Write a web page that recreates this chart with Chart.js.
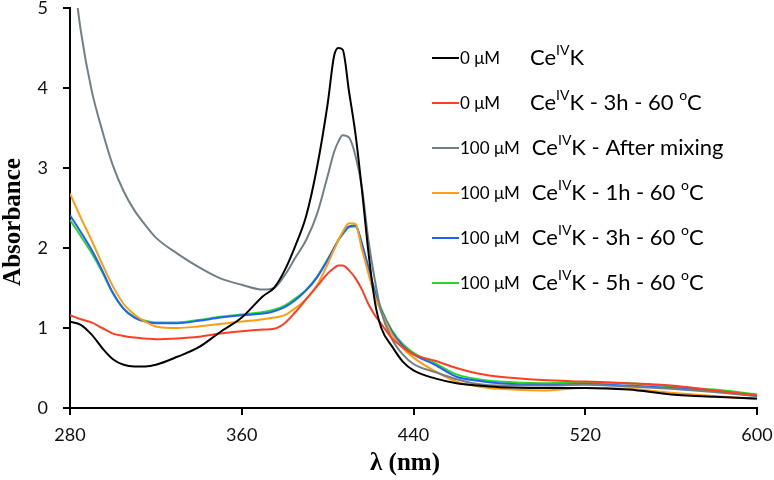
<!DOCTYPE html>
<html>
<head>
<meta charset="utf-8">
<script src="https://cdn.jsdelivr.net/npm/chart.js@4.4.0/dist/chart.umd.min.js"></script>
<style>
  html, body { margin: 0; padding: 0; background: #fff; }
  #wrap { width: 774px; height: 480px; }
</style>
</head>
<body>
<div id="wrap"><canvas id="mychart" width="774" height="480"></canvas></div>
<script>
// wavelength grid (nm)
const wavelengths = [280, 285, 290, 295, 300, 305, 310, 315, 320, 330, 340, 350, 360, 370, 375, 380, 385, 390, 395, 400, 403, 405, 407, 410, 413, 416, 419, 422, 425, 430, 435, 440, 450, 460, 470, 480, 500, 520, 540, 560, 580, 600];

// absorbance values
const ceK0 = [1.08, 1.04, 0.92, 0.75, 0.61, 0.54, 0.52, 0.52, 0.54, 0.64, 0.76, 0.95, 1.13, 1.4, 1.5, 1.72, 2.03, 2.4, 3.0, 3.8, 4.4, 4.5, 4.48, 3.95, 3.42, 2.72, 1.95, 1.33, 1.0, 0.77, 0.58, 0.47, 0.37, 0.31, 0.28, 0.26, 0.25, 0.25, 0.23, 0.17, 0.14, 0.12];
const ceK0_3h = [1.16, 1.11, 1.07, 1.0, 0.93, 0.9, 0.88, 0.87, 0.86, 0.87, 0.89, 0.93, 0.96, 0.98, 0.99, 1.06, 1.2, 1.36, 1.52, 1.68, 1.75, 1.78, 1.78, 1.72, 1.62, 1.48, 1.3, 1.16, 1.05, 0.87, 0.76, 0.67, 0.59, 0.5, 0.43, 0.39, 0.35, 0.33, 0.31, 0.28, 0.22, 0.16];
const ceK100_mix = [5.8, 4.72, 3.98, 3.47, 3.03, 2.71, 2.47, 2.29, 2.13, 1.93, 1.76, 1.62, 1.54, 1.48, 1.5, 1.66, 1.88, 2.1, 2.42, 2.9, 3.2, 3.33, 3.41, 3.38, 3.15, 2.75, 2.1, 1.6, 1.2, 0.86, 0.67, 0.55, 0.45, 0.36, 0.3, 0.28, 0.28, 0.29, 0.27, 0.24, 0.2, 0.15];
const ceK100_1h = [2.68, 2.38, 2.1, 1.8, 1.52, 1.3, 1.17, 1.08, 1.02, 1.0, 1.02, 1.05, 1.08, 1.11, 1.13, 1.16, 1.25, 1.36, 1.53, 1.8, 1.98, 2.1, 2.2, 2.31, 2.3, 1.98, 1.68, 1.4, 1.2, 0.92, 0.75, 0.63, 0.46, 0.33, 0.27, 0.24, 0.22, 0.25, 0.24, 0.19, 0.15, 0.11];
const ceK100_3h = [2.41, 2.2, 1.98, 1.72, 1.44, 1.24, 1.13, 1.08, 1.06, 1.06, 1.09, 1.13, 1.16, 1.18, 1.21, 1.26, 1.35, 1.47, 1.63, 1.85, 2.0, 2.1, 2.18, 2.27, 2.28, 2.05, 1.75, 1.45, 1.22, 0.95, 0.78, 0.67, 0.54, 0.39, 0.34, 0.31, 0.29, 0.3, 0.28, 0.25, 0.21, 0.15];
const ceK100_5h = [2.35, 2.15, 1.94, 1.7, 1.43, 1.24, 1.14, 1.09, 1.07, 1.07, 1.1, 1.14, 1.17, 1.2, 1.23, 1.28, 1.37, 1.48, 1.64, 1.86, 2.0, 2.1, 2.17, 2.26, 2.27, 2.05, 1.76, 1.47, 1.24, 0.97, 0.8, 0.69, 0.56, 0.42, 0.36, 0.33, 0.31, 0.32, 0.31, 0.27, 0.23, 0.17];

const concLabels = ['0 μM', '0 μM', '100 μM', '100 μM', '100 μM', '100 μM'];
const nameLabels = ['Ce^{IV}K', 'Ce^{IV}K - 3h - 60 ^{o}C', 'Ce^{IV}K - After mixing', 'Ce^{IV}K - 1h - 60 ^{o}C', 'Ce^{IV}K - 3h - 60 ^{o}C', 'Ce^{IV}K - 5h - 60 ^{o}C'];
const colors = ['#000000', '#ff3d22', '#718086', '#ff9c12', '#2060ff', '#24d824'];
const seriesList = [ceK0, ceK0_3h, ceK100_mix, ceK100_1h, ceK100_3h, ceK100_5h];

const xTicks = [280, 360, 440, 520, 600];
const yTicks = [0, 1, 2, 3, 4, 5];

const datasets = seriesList.map((vals, i) => ({
    label: concLabels[i] + ' ' + nameLabels[i].replace(/\^\{(.*?)\}/g, '$1'),
    data: wavelengths.map((w, j) => ({ x: w, y: vals[j] })),
    borderColor: colors[i],
    borderWidth: 2,
    pointRadius: 0,
    fill: false,
    cubicInterpolationMode: 'monotone'
}));

// draw one label with ^{...} superscripts
const drawRich = (ctx, text, x, y, size) => {
    const parts = text.split(/(\^\{.*?\})/);
    parts.forEach(p => {
        if (!p) return;
        if (p.startsWith('^{')) {
            const s = p.slice(2, -1);
            ctx.font = Math.round(size * 0.62) + 'px Lato';
            ctx.fillText(s, x, y - size * 0.36);
            x += ctx.measureText(s).width;
        } else {
            ctx.font = size + 'px Lato';
            ctx.fillText(p, x, y);
            x += ctx.measureText(p).width;
        }
    });
};

const customLegend = {
    id: 'customLegend',
    afterDraw(chart) {
        const ctx = chart.ctx;
        ctx.save();
        ctx.textBaseline = 'middle';
        ctx.fillStyle = '#000';
        for (let i = 0; i < concLabels.length; i++) {
            const y = 58 + i * 45;
            ctx.strokeStyle = colors[i];
            ctx.lineWidth = 2;
            ctx.beginPath();
            ctx.moveTo(432, y);
            ctx.lineTo(459, y);
            ctx.stroke();
            ctx.font = '17px Lato';
            ctx.fillText(concLabels[i], 460, y + 1);
            const w = ctx.measureText(concLabels[i]).width;
            drawRich(ctx, nameLabels[i], Math.max(530, 460 + w + 12), y, 22);
        }
        // axis titles
        ctx.font = 'bold 25px "Liberation Serif"';
        ctx.textAlign = 'center';
        ctx.fillText('λ (nm)', 405, 464);
        ctx.translate(14, 222);
        ctx.rotate(-Math.PI / 2);
        ctx.fillText('Absorbance', 0, 0);
        ctx.restore();
    }
};

const ctx = document.getElementById('mychart').getContext('2d');
let myChart = new Chart(ctx, {
    type: 'line',
    data: { datasets },
    options: {
        responsive: false,
        animation: false,
        layout: { padding: { top: 8, right: 17, left: 0, bottom: 0 } },
        plugins: { legend: { display: false }, tooltip: { enabled: false } },
        scales: {
            x: {
                type: 'linear',
                min: 280,
                max: 600,
                afterFit: s => { s.height = 72; s.paddingLeft = 0; s.paddingRight = 0; },
                afterBuildTicks: s => { s.ticks = xTicks.map(v => ({ value: v })); },
                grid: { drawOnChartArea: false, drawTicks: true, tickLength: 7, color: '#000', lineWidth: 2 },
                border: { color: '#000', width: 2 },
                ticks: { color: '#111', font: { family: 'Lato', size: 18 }, padding: 9, maxRotation: 0 }
            },
            y: {
                min: 0,
                max: 5,
                afterFit: s => { s.width = 70; s.paddingTop = 0; s.paddingBottom = 0; },
                afterBuildTicks: s => { s.ticks = yTicks.map(v => ({ value: v })); },
                grid: { drawOnChartArea: false, drawTicks: true, tickLength: 7, color: '#000', lineWidth: 2 },
                border: { color: '#000', width: 2 },
                ticks: { color: '#111', font: { family: 'Lato', size: 18 }, padding: 15 }
            }
        }
    },
    plugins: [customLegend]
});
</script>
</body>
</html>
